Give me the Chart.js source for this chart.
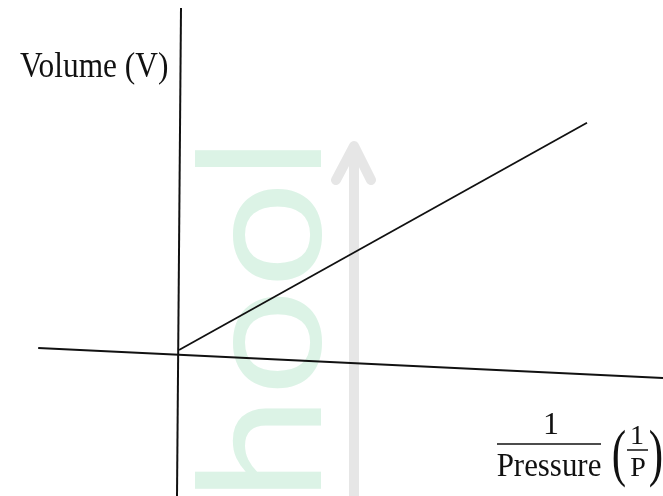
<!DOCTYPE html>
<html>
<head>
<meta charset="utf-8">
<script src="https://cdn.jsdelivr.net/npm/chart.js@4.4.1/dist/chart.umd.min.js"></script>
<style>
  html, body { margin: 0; padding: 0; background: #fff; }
  #wrap { width: 663px; height: 496px; }
</style>
</head>
<body>
<div id="wrap"><canvas id="boyle"></canvas></div>
<script>
// V against 1/P : straight line through the origin
const inv_pressure = [0, 10.2];
const volume = [0, 5.68];

// hand drawn axes (slightly skewed in the scan)
const x_axis_x = [-3.52, 12.1];
const x_axis_y = [0.05, -0.7];
const y_axis_x = [0.05, -0.05];
const y_axis_y = [8.55, -3.65];

const y_label = "Volume (V)";
const x_label_num = "1";
const x_label_den = "Pressure";
const x_label_short = ["1", "P"];
const watermark = "hool";

const toPoints = (xs, ys) => xs.map((x, i) => ({ x: x, y: ys[i] }));

// faint watermark of the scanned page
const plugin_marca = {
  id: "marca",
  beforeDatasetsDraw: (chart) => {
    const ctx = chart.ctx;
    ctx.save();
    // grey arrow
    ctx.strokeStyle = "#e6e6e6";
    ctx.lineWidth = 10;
    ctx.lineCap = "round";
    ctx.lineJoin = "round";
    ctx.beginPath();
    ctx.moveTo(354, 496);
    ctx.lineTo(354, 148);
    ctx.moveTo(336, 180);
    ctx.lineTo(354, 146);
    ctx.lineTo(371, 180);
    ctx.stroke();
    // green letters, reading upwards
    ctx.translate(321, 502);
    ctx.rotate(-Math.PI / 2);
    ctx.scale(1.02, 0.92);
    ctx.fillStyle = "#dcf3e6";
    ctx.font = "400 186px Lato";
    ctx.textBaseline = "alphabetic";
    ctx.textAlign = "left";
    ctx.fillText(watermark, 0, 0);
    ctx.restore();
  },
};

const plugin_etiquetas = {
  id: "etiquetas",
  afterDraw: (chart) => {
    const ctx = chart.ctx;
    ctx.save();
    ctx.fillStyle = "#111";
    ctx.strokeStyle = "#111";
    ctx.textBaseline = "alphabetic";
    ctx.textAlign = "left";

    // Volume (V), a bit taller in the scan
    ctx.save();
    ctx.translate(20, 77);
    ctx.scale(0.98, 1.12);
    ctx.font = "32px 'Liberation Serif'";
    ctx.fillText(y_label, 0, 0);
    ctx.restore();

    // 1 / Pressure
    ctx.textAlign = "center";
    ctx.font = "32px 'Liberation Serif'";
    ctx.fillText(x_label_num, 551, 434);
    ctx.save();
    ctx.translate(549, 476);
    ctx.scale(1.03, 1.1);
    ctx.font = "30px 'Liberation Serif'";
    ctx.fillText(x_label_den, 0, 0);
    ctx.restore();
    ctx.lineWidth = 1.5;
    ctx.beginPath();
    ctx.moveTo(497, 444);
    ctx.lineTo(601, 444);
    ctx.stroke();

    // (1/P)
    ctx.font = "28px 'Liberation Serif'";
    ctx.fillText(x_label_short[0], 637, 444);
    ctx.fillText(x_label_short[1], 638, 476);
    ctx.beginPath();
    ctx.moveTo(627, 450);
    ctx.lineTo(648, 450);
    ctx.stroke();
    ctx.save();
    ctx.translate(619, 474);
    ctx.scale(0.72, 1.05);
    ctx.font = "60px 'Liberation Serif'";
    ctx.fillText("(", 0, 0);
    ctx.restore();
    ctx.save();
    ctx.translate(656, 474);
    ctx.scale(0.72, 1.05);
    ctx.font = "60px 'Liberation Serif'";
    ctx.fillText(")", 0, 0);
    ctx.restore();
    ctx.restore();
  },
};

const ctx = document.getElementById("boyle").getContext("2d");
const chart_boyle = new Chart(ctx, {
  type: "scatter",
  data: {
    datasets: [
      {
        label: "V vs 1/P",
        data: toPoints(inv_pressure, volume),
        showLine: true,
        borderColor: "#111",
        borderWidth: 1.8,
        pointRadius: 0,
      },
      {
        label: "x axis",
        data: toPoints(x_axis_x, x_axis_y),
        showLine: true,
        borderColor: "#111",
        borderWidth: 2,
        pointRadius: 0,
      },
      {
        label: "y axis",
        data: toPoints(y_axis_x, y_axis_y),
        showLine: true,
        borderColor: "#111",
        borderWidth: 2,
        pointRadius: 0,
      },
    ],
  },
  options: {
    responsive: true,
    maintainAspectRatio: false,
    animation: false,
    layout: { padding: 0 },
    plugins: {
      legend: { display: false },
      tooltip: { enabled: false },
      title: { display: false },
    },
    scales: {
      x: { type: "linear", display: false, min: -4.475, max: 12.1 },
      y: { type: "linear", display: false, min: -3.65, max: 8.75 },
    },
  },
  plugins: [plugin_marca, plugin_etiquetas],
});
</script>
</body>
</html>
